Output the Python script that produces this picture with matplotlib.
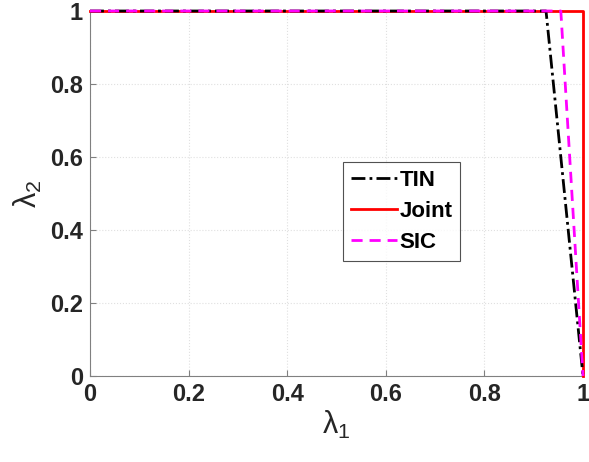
import numpy as np
import matplotlib
matplotlib.use('Agg')
from matplotlib import pyplot as plt

# rate region corner points (lambda_1, lambda_2)
tin_x = [0, 0.925, 1.0]
tin_y = [1, 1, 0]
joint_x = [0, 1.0, 1.0]
joint_y = [1, 1, 0]
sic_x = [0, 0.955, 1.0]
sic_y = [1, 1, 0]

xticks = [0, 0.2, 0.4, 0.6, 0.8, 1]
yticks = [0, 0.2, 0.4, 0.6, 0.8, 1]

plt.rcParams['font.family'] = ['Liberation Sans', 'DejaVu Sans']
plt.rcParams['mathtext.fontset'] = 'dejavusans'
plt.rcParams['mathtext.default'] = 'regular'

fig = plt.figure(figsize=(5.89, 4.62), dpi=100)
ax = fig.add_axes([90 / 589, 86 / 462, 493 / 589, 365 / 462])

ax.plot(joint_x, joint_y, color='red', ls='-', lw=2, label='Joint',
        clip_on=False, zorder=3)
ax.plot(tin_x, tin_y, color='k', ls=(0, (5, 1.5, 1, 1.5)), lw=2, label='TIN',
        clip_on=False, zorder=4)
ax.plot(sic_x, sic_y, color='magenta', ls=(0, (4, 2.5)), lw=2, label='SIC',
        clip_on=False, zorder=5)

ax.set_xlim(0, 1)
ax.set_ylim(0, 1)
ax.set_xticks(xticks)
ax.set_yticks(yticks)
ax.set_xticklabels([f'{t:g}' for t in xticks])
ax.set_yticklabels([f'{t:g}' for t in yticks])
ax.tick_params(labelsize=17, direction='in', length=4, colors='#808080',
               labelcolor='#262626', pad=5)
for lab in ax.get_xticklabels() + ax.get_yticklabels():
    lab.set_fontweight('bold')
ax.spines['top'].set_visible(False)
ax.spines['right'].set_visible(False)
ax.spines['left'].set_color('#808080')
ax.spines['bottom'].set_color('#808080')
ax.grid(True, ls=':', color='#e0e0e0', lw=0.8)

ax.set_xlabel(r'$\lambda_1$', fontsize=22, color='#262626', labelpad=2,
              fontweight='normal')
ax.set_ylabel(r'$\lambda_2$', fontsize=22, color='#262626', labelpad=4,
              fontweight='normal')

handles, labels = ax.get_legend_handles_labels()
order = [1, 0, 2]
leg = ax.legend([handles[i] for i in order], [labels[i] for i in order],
                loc='center', bbox_to_anchor=(0.632, 0.45),
                prop={'size': 16, 'weight': 'bold'},
                frameon=True, fancybox=False, edgecolor='#262626',
                handlelength=2.1, handletextpad=0.1, borderpad=0.35,
                labelspacing=0.45, borderaxespad=0)
leg.get_frame().set_linewidth(0.8)

fig.savefig('out.png', dpi=100)
